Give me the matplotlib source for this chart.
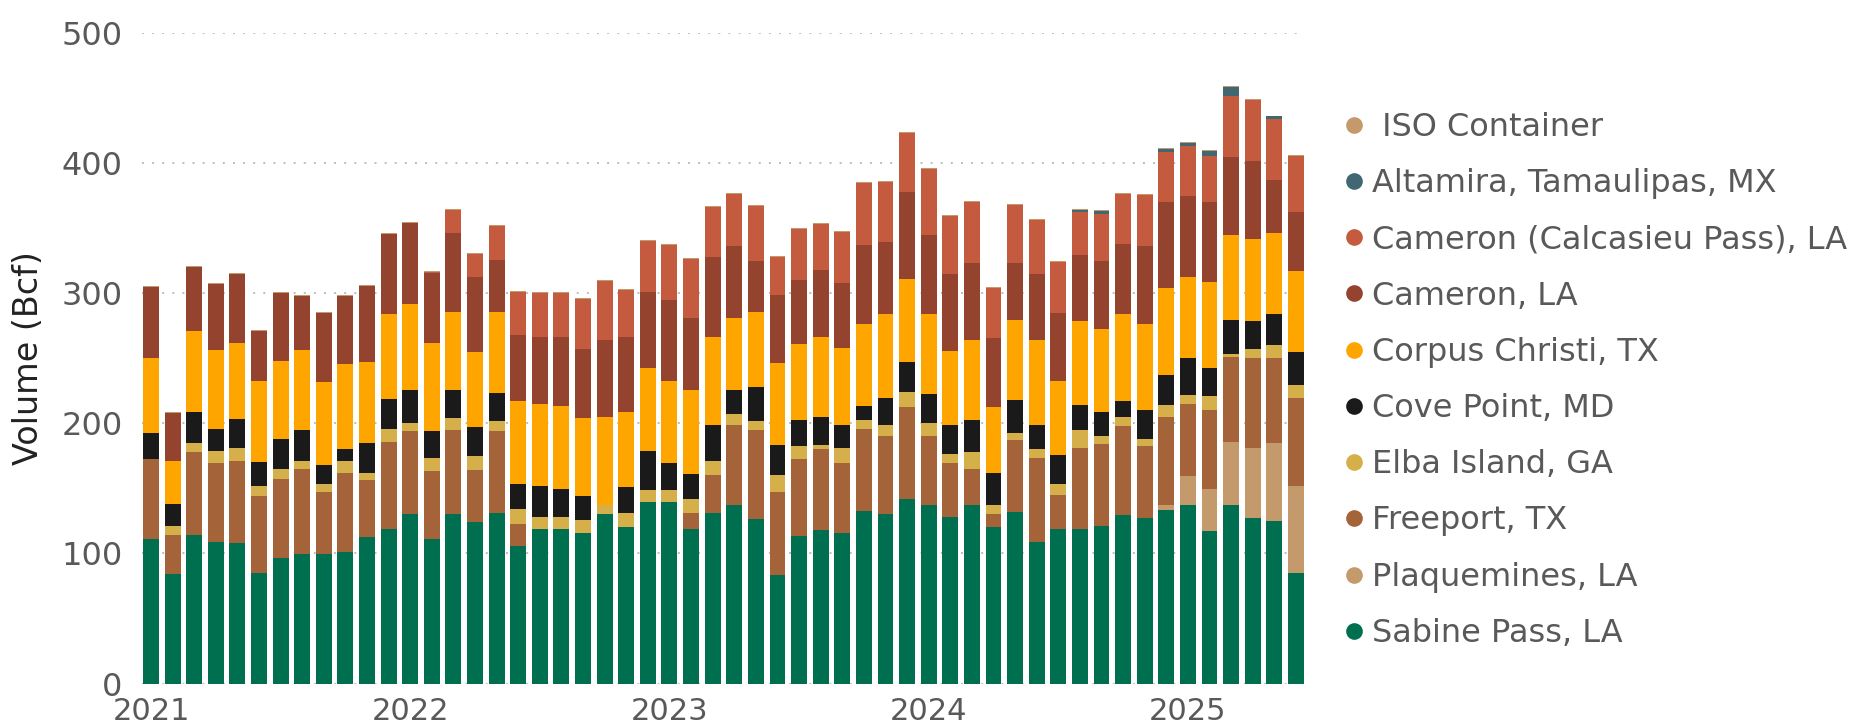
import matplotlib
matplotlib.use("Agg")
import matplotlib.pyplot as plt
from matplotlib.lines import Line2D
import numpy as np

plt.rcParams['font.family'] = ['DejaVu Sans']

# monthly U.S. LNG exports by terminal, Bcf, Jan 2021 - Jun 2025
months = np.arange(54)
year_ticks = [0, 12, 24, 36, 48]
year_labels = ["2021", "2022", "2023", "2024", "2025"]

sabine = [111, 83.9, 113.8, 108.5, 107.8, 85.3, 96.4, 99.2, 99.2, 101, 112.4, 119.1,
          130.2, 111, 130.2, 123.8, 130.9, 105.6, 118.4, 118.4, 115.6, 130.2, 120.2, 139.4,
          139.4, 119.1, 130.9, 136.9, 126.2, 83.2, 113.1, 117.7, 115.6, 132.3, 130.2, 141.5,
          137.6, 127.7, 137.6, 120.2, 131.6, 108.5, 119.1, 118.4, 120.9, 129.4, 127, 133,
          137.6, 117, 136.9, 127, 124.8, 84.6]
plaquemines = [0] * 47 + [3.9, 21.7, 32.4, 49.1, 53.7, 59.8, 67.6]
freeport = [61.5, 29.9, 64, 60.8, 63.6, 58.7, 61.1, 65.5, 48.4, 60.5, 44.4, 66.9,
            63.6, 52.2, 64.3, 40.1, 62.9, 17.4, 0, 0, 0, 0, 0, 0,
            0, 11.8, 29.1, 62.2, 68.3, 63.7, 59.4, 62.3, 53.7, 63.3, 60.4, 70.8,
            53, 41.6, 27.1, 10, 55.5, 64.7, 25.6, 63, 63, 68.3, 55.4, 67.6,
            55.8, 61.1, 64.7, 69.3, 65.4, 66.9]
elba = [0, 7.1, 6.8, 9.2, 9.3, 7.5, 7.2, 6.7, 6, 9.2, 5.4, 10,
        6.8, 10, 9.3, 10.7, 7.8, 11.1, 9.3, 9.3, 9.9, 7.1, 10.7, 9.2,
        9.2, 10.6, 10.7, 7.9, 7.1, 13.1, 9.9, 3.1, 12.1, 7.1, 7.8, 11.4,
        10, 7.4, 13.1, 7.4, 5.3, 6.8, 8.9, 13.1, 6.7, 6.8, 5.4, 9.9,
        6.5, 10.3, 2.9, 6.8, 10, 10.6]
cove_point = [19.9, 17.4, 23.8, 17.5, 22.3, 18.5, 23.1, 23.1, 14.3, 9.3, 22.4, 23,
              24.9, 20.6, 21.7, 22.4, 21.4, 19.2, 23.8, 21.7, 18.5, 0, 19.9, 29.9,
              20.7, 19.2, 28.4, 18.5, 26.7, 23.1, 19.9, 21.4, 17, 11, 21.4, 23.1,
              21.7, 22.4, 24.5, 23.9, 25.2, 18.4, 21.7, 19.9, 17.8, 12.4, 22.7, 22.4,
              28.4, 22.1, 25.6, 21.6, 23.8, 24.9]
corpus = [57.6, 33.1, 62.2, 60, 59, 62.2, 60.4, 61.5, 63.6, 65.4, 62.9, 64.8,
          66.5, 68.2, 59.7, 57.6, 62.2, 63.6, 63.6, 63.6, 59.8, 67.2, 57.6, 63.7,
          62.9, 64.8, 66.9, 55.8, 57.6, 63, 58.4, 62.2, 59.8, 63, 64, 64.4,
          61.5, 56.2, 61.6, 50.8, 61.6, 65.5, 57.6, 64, 64.4, 66.9, 65.5, 67.6,
          62.2, 66.1, 65.8, 63, 62.2, 62.3]
cameron = [55, 36.6, 49.8, 50.9, 52.7, 38.8, 51.9, 42, 53.4, 52.6, 58.3, 61.5,
           61.8, 53.8, 60.8, 57.6, 40.5, 51.2, 51.6, 53, 53, 59.4, 57.6, 59,
           62.3, 55.1, 62.2, 54.7, 39.1, 52.3, 49.8, 50.9, 49.4, 60.1, 55.8, 66.8,
           61.2, 59.1, 59, 53, 43.7, 50.5, 51.6, 51.3, 52.2, 53.7, 60, 65.4,
           62.3, 60.8, 60, 60.4, 41.3, 45.8]
calcasieu = [0] * 13 + [0.5, 17.8, 17.8, 26, 32.8, 33.4, 34.1, 38.7, 45.5, 36.6, 38.8,
                        42.6, 45.5, 38.1, 40.2, 42, 29.5, 38.7, 35.5, 39.5, 48, 46.2, 45.2,
                        50.8, 44.8, 47.3, 38.7, 44.8, 41.9, 39.5, 33, 36, 38.7, 39.2, 38.4,
                        38.7, 36, 46.3, 47, 46.6, 43.1]
altamira = [0] * 43 + [1.1, 2.1, 0, 0.5, 2.5, 2.2, 3.5, 7.4, 0, 2.1, 0]
iso = [0.7, 0.6, 0.7, 0.7, 0.7, 0.6, 0.7, 0.6, 0.6, 0.6, 0.7, 0.7,
       0.6, 0.6, 0.6, 0.6, 0.6, 0.6, 0.6, 0.6, 0.6, 0.6, 0.6, 0.6,
       0.6, 0.6, 0.6, 0.6, 0.6, 0.6, 0.6, 0.6, 0.6, 0.6, 0.6, 0.6,
       0.6, 0.6, 0.6, 0.6, 0.6, 0.6, 0.6, 0.6, 0.6, 0.6, 0.6, 0.6,
       0.6, 0.6, 0.6, 0.6, 0.6, 0.6]

series = [
    ("Sabine Pass, LA", sabine, "#006f50"),
    ("Plaquemines, LA", plaquemines, "#c49a6c"),
    ("Freeport, TX", freeport, "#a5633a"),
    ("Elba Island, GA", elba, "#d4af4a"),
    ("Cove Point, MD", cove_point, "#1a1a1a"),
    ("Corpus Christi, TX", corpus, "#ffa500"),
    ("Cameron, LA", cameron, "#93432e"),
    ("Cameron (Calcasieu Pass), LA", calcasieu, "#c45b3e"),
    ("Altamira, Tamaulipas, MX", altamira, "#416872"),
    (" ISO Container", iso, "#c49a6c"),
]

txt = "#595959"

fig = plt.figure(figsize=(18.54, 7.26), dpi=100)
ax = fig.add_axes([0.0766, 0.0585, 0.6268, 0.896])

bottom = np.zeros(len(months))
for name, vals, col in series:
    v = np.array(vals, dtype=float)
    ax.bar(months, v, bottom=bottom, width=0.74, color=col, linewidth=0, zorder=3)
    bottom += v

ax.set_ylim(0, 500)
ax.set_xlim(-0.42, 53.38)
ax.set_yticks(range(0, 501, 100))
ax.yaxis.grid(True, color="#bdbdbd", linestyle=(0, (1, 4.2)), linewidth=1.4, zorder=0)
ax.set_xticks(year_ticks)
ax.set_xticklabels(year_labels)
ax.tick_params(axis="y", length=0, pad=14, labelsize=23, labelcolor=txt)
ax.tick_params(axis="x", length=0, pad=10, labelsize=22, labelcolor=txt)
for s in ax.spines.values():
    s.set_visible(False)
ax.set_ylabel("Volume (Bcf)", fontsize=24, color="#222222", labelpad=12)

handles = [Line2D([], [], marker="o", linestyle="none", markersize=12,
                  markerfacecolor=col, markeredgewidth=0)
           for name, vals, col in series[::-1]]
labels = [name for name, vals, col in series[::-1]]
fig.legend(handles, labels, loc="upper left", bbox_to_anchor=(0.726, 0.846),
           frameon=False, fontsize=23, labelcolor=txt, borderpad=0,
           borderaxespad=0, handlelength=0.5, handletextpad=0.3,
           labelspacing=0.79)

fig.savefig("out.png", dpi=100)
